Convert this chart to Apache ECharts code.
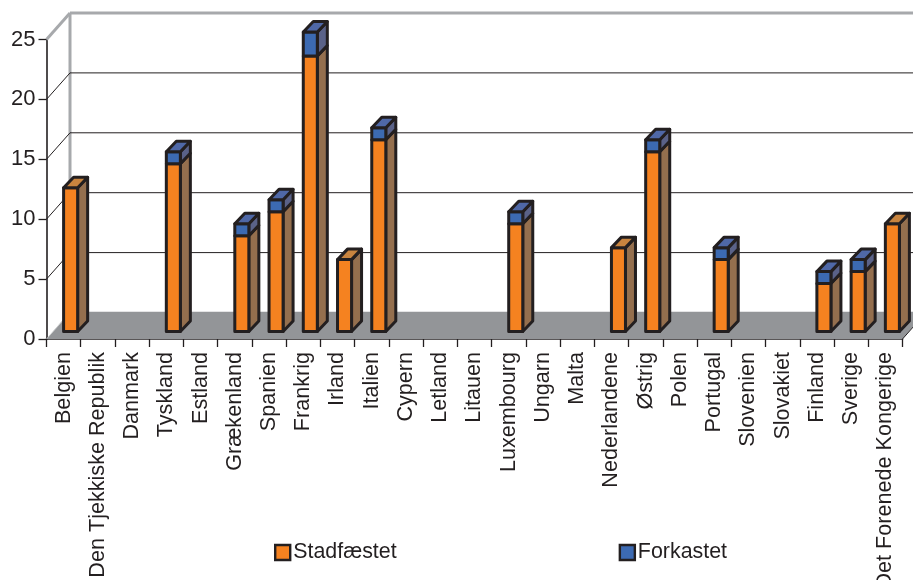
<!DOCTYPE html>
<html>
<head>
<meta charset="utf-8">
<style>html,body{margin:0;padding:0;background:#fff}#c{width:913px;height:580px}</style>
<script src="https://cdn.jsdelivr.net/npm/echarts@6/dist/echarts.min.js"></script>
</head>
<body>
<div id="c"></div>
<script>
const categories = ["Belgien","Den Tjekkiske Republik","Danmark","Tyskland","Estland","Grækenland","Spanien","Frankrig","Irland","Italien","Cypern","Letland","Litauen","Luxembourg","Ungarn","Malta","Nederlandene","Østrig","Polen","Portugal","Slovenien","Slovakiet","Finland","Sverige","Det Forenede Kongerige"];
const stadfaestet = [12,0,0,14,0,8,10,23,6,16,0,0,0,9,0,0,7,15,0,6,0,0,4,5,9];
const forkastet   = [0,0,0,1,0,1,1,2,0,1,0,0,0,1,0,0,0,1,0,1,0,0,1,1,0];
const tickValues = [0,5,10,15,20,25];

const ink = '#231f20';
const wallDepth = {dx:23.5, dy:-26.5};
const barShift = {dx:7, dy:-7.5};
const barDepth = {dx:10, dy:-10.5};
const barWidthRatio = 0.41;
const palette = {
  orange:{front:'#f58220', side:'#946f4e', top:'#c8843f'},
  blue:{front:'#3c6ab2', side:'#5a6288', top:'#4f68a7'}
};

function poly(points, fill){
  return {type:'polygon', shape:{points}, style:{fill, stroke:ink, lineWidth:3, lineJoin:'round'}};
}
function barRenderer(colors, hasTop){
  return function(params, api){
    const cat = api.value(0), from = api.value(1), to = api.value(2);
    if (to <= from) return {type:'group', children:[]};
    const w = api.size([1,0])[0]*barWidthRatio;
    const a = api.coord([cat, from]), b = api.coord([cat, to]);
    const xl = a[0]+barShift.dx-w/2, xr = xl+w;
    const yb = a[1]+barShift.dy, yt = b[1]+barShift.dy;
    const dx = barDepth.dx, dy = barDepth.dy;
    const children = [
      poly([[xr,yb],[xr+dx,yb+dy],[xr+dx,yt+dy],[xr,yt]], colors.side),
      poly([[xl,yb],[xr,yb],[xr,yt],[xl,yt]], colors.front)
    ];
    if (hasTop(params.dataIndex)) children.push(poly([[xl,yt],[xr,yt],[xr+dx,yt+dy],[xl+dx,yt+dy]], colors.top));
    return {type:'group', children};
  };
}
function wallRenderer(params, api){
  const v = api.value(0);
  const p = api.coord([0,v]);
  const left = p[0] - api.size([1,0])[0]/2;
  const right = left + api.size([1,0])[0]*categories.length;
  const y = p[1];
  const bx = left+wallDepth.dx, by = y+wallDepth.dy;
  const children = [];
  const isTop = v === tickValues[tickValues.length-1];
  const isFloor = v === tickValues[0];
  const heavy = {stroke:'#a7a9ac',lineWidth:3};
  const thin = {stroke:ink,lineWidth:1};
  if (isFloor){
    children.push({type:'polygon', shape:{points:[[left,y],[bx,by-0.7],[right+wallDepth.dx,by-0.7],[right,y]]}, style:{fill:'#939598'}});
    const t = api.coord([0,tickValues[tickValues.length-1]])[1]+wallDepth.dy;
    children.push({type:'line', shape:{x1:bx,y1:t,x2:bx,y2:by}, style:heavy});
    children.push({type:'line', shape:{x1:left,y1:y,x2:bx,y2:by}, style:{stroke:'#d1d3d4',lineWidth:0.8}});
    children.push({type:'line', shape:{x1:right,y1:y,x2:right+wallDepth.dx,y2:by}, style:thin});
  } else {
    children.push({type:'line', shape:{x1:left,y1:y,x2:bx,y2:by}, style:isTop?heavy:thin});
    children.push({type:'line', shape:{x1:bx,y1:by,x2:right+wallDepth.dx,y2:by}, style:isTop?heavy:thin});
  }
  return {type:'group', children};
}

const stackTops = stadfaestet.map((v,i)=>v+forkastet[i]);
const chart = echarts.init(document.getElementById('c'), null, {renderer:'canvas'});
chart.setOption({
  animation:false,
  backgroundColor:'#fff',
  textStyle:{fontFamily:'Liberation Sans'},
  grid:{left:46.5, right:10.5, top:39.5, bottom:241, containLabel:false, outerBoundsMode:'none'},
  legend:{
    left:274, top:542, padding:0, itemWidth:15, itemHeight:15, itemGap:222, selectedMode:false,
    textStyle:{fontSize:21.4, color:ink, fontFamily:'Liberation Sans', padding:[0,0,0,-2]},
    data:[
      {name:'Stadfæstet', icon:'rect', itemStyle:{color:palette.orange.front, borderColor:ink, borderWidth:2.4}},
      {name:'Forkastet', icon:'rect', itemStyle:{color:palette.blue.front, borderColor:ink, borderWidth:2.4}}
    ]
  },
  xAxis:{
    type:'category', data:categories, boundaryGap:true,
    axisLine:{show:true, onZero:false, lineStyle:{color:ink, width:1.6}},
    axisTick:{show:true, length:8, lineStyle:{color:ink, width:1.3}, interval:0},
    axisLabel:{rotate:90, interval:0, margin:13, fontSize:21.6, color:ink, fontFamily:'Liberation Sans', hideOverlap:false},
    splitLine:{show:false}
  },
  yAxis:{
    type:'value', min:0, max:25, interval:5,
    axisLine:{show:true, lineStyle:{color:ink, width:1.6}},
    axisTick:{show:true, length:8, lineStyle:{color:ink, width:1.3}},
    axisLabel:{margin:11, fontSize:22, color:ink, fontFamily:'Liberation Sans'},
    splitLine:{show:false}
  },
  series:[
    {type:'custom', name:'wall', silent:true, z:1, coordinateSystem:'cartesian2d', renderItem:wallRenderer,
     encode:{y:0}, data:tickValues.map(v=>[v])},
    {type:'custom', name:'Stadfæstet', z:3, renderItem:barRenderer(palette.orange, i=>forkastet[i]===0),
     encode:{x:0,y:[1,2]}, data:stadfaestet.map((v,i)=>[i,0,v])},
    {type:'custom', name:'Forkastet', z:4, renderItem:barRenderer(palette.blue, ()=>true),
     encode:{x:0,y:[1,2]}, data:forkastet.map((v,i)=>[i,stadfaestet[i],stackTops[i]])}
  ]
});
</script>
</body>
</html>
